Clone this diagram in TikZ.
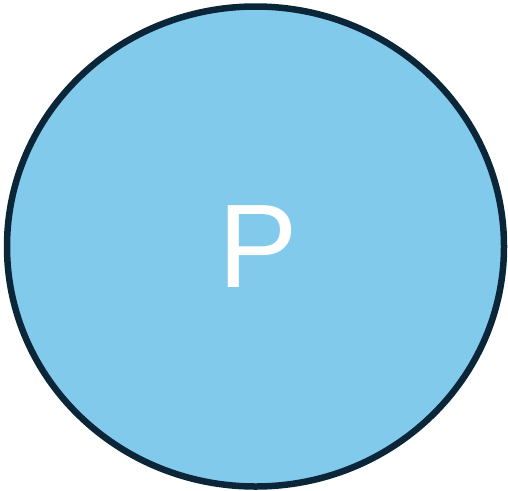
\documentclass[tikz,border=0pt]{standalone}
\usepackage{fontspec}
\usetikzlibrary{shapes.geometric}
\setmainfont{Liberation Sans}
\definecolor{fillblue}{HTML}{82CAEB}
\definecolor{edgedark}{HTML}{0B2638}
\begin{document}
\begin{tikzpicture}[x=1pt,y=-1pt,
  bubble/.style={ellipse,draw=edgedark,fill=fillblue,line width=6.5pt,minimum width=497pt,minimum height=480pt,inner sep=0pt},
  label/.style={text=white,font=\fontsize{119}{119}\selectfont,inner sep=0pt}]
\useasboundingbox (0,0) rectangle (508,490);
\node[bubble] (circle) at (255.5,246.5) {};
\node[label,anchor=base] (p) at (258.5,287) {P};
\end{tikzpicture}
\end{document}
